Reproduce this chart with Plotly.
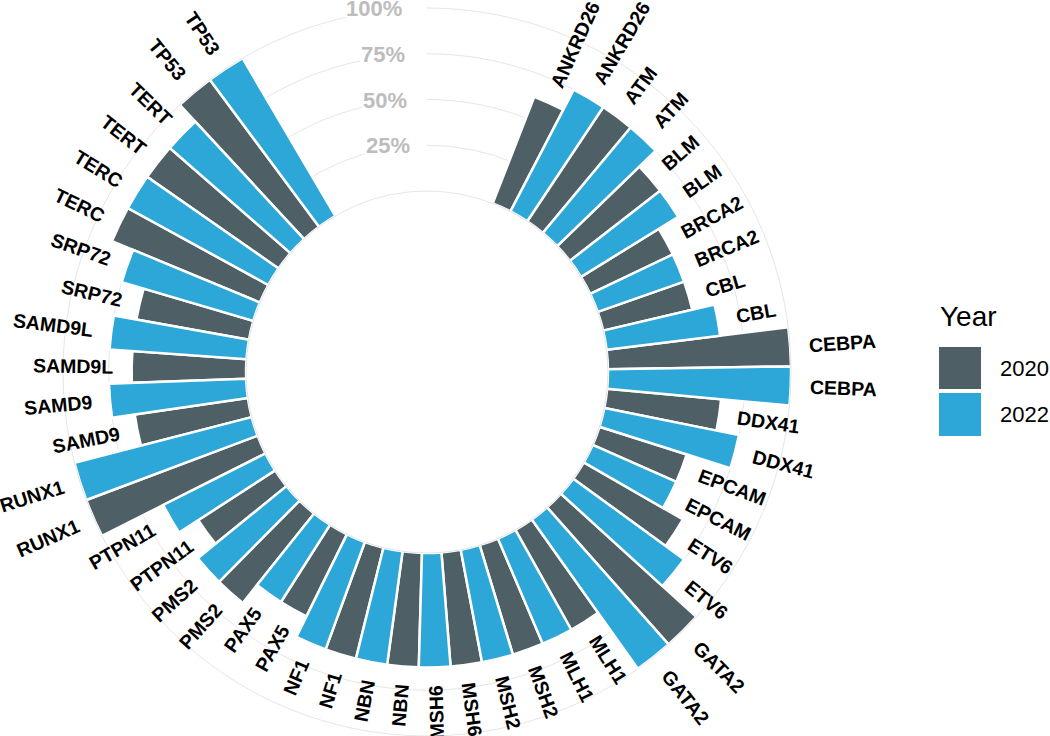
import math
import plotly.graph_objects as go

# ---------------- data ----------------
genes = ["ANKRD26", "ATM", "BLM", "BRCA2", "CBL", "CEBPA", "DDX41", "EPCAM", "ETV6",
         "GATA2", "MLH1", "MSH2", "MSH6", "NBN", "NF1", "PAX5", "PMS2", "PTPN11",
         "RUNX1", "SAMD9", "SAMD9L", "SRP72", "TERC", "TERT", "TP53"]
pct_2020 = [62.5, 75, 62.5, 50, 50, 100, 62.5, 50, 62.5, 100, 62.5, 62.5, 62.5, 62.5,
            62.5, 50, 62.5, 50, 100, 62.5, 62.5, 62.5, 87.5, 87.5, 100]
pct_2022 = [75, 75, 62.5, 50, 62.5, 100, 75, 50, 75, 100, 62.5, 62.5, 62.5, 62.5,
            62.5, 50, 62.5, 62.5, 100, 75, 75, 75, 87.5, 87.5, 100]
years = ["2020", "2022"]
ring_ticks = [25, 50, 75, 100]
ring_labels = ["25%", "50%", "75%", "100%"]

# ---------------- style / geometry ----------------
W, H = 1050, 736
COLORS = {"2020": "#4E5F66", "2022": "#2CA7D7"}
GRID = "#E6E6E6"
FONT = "Arial, 'Liberation Sans', Helvetica, sans-serif"
CX, CY = 427.0, 372.0          # circle centre in px
R_IN = 181.0                    # px radius of value 0
RMAX = 100.0
R_OUT = 364.0
K = (R_OUT - R_IN) / RMAX       # px per unit
TH0 = 21.3                      # clockwise start angle (deg from top)
DT = 6.165                      # angular slot width
LABEL_PAD = 10                  # label offset in value units
GENE_FS = 19.5
PCT_FS = 22

vals = {"2020": pct_2020, "2022": pct_2022}
thetas = {y: [] for y in years}
for g in range(len(genes)):
    for j, y in enumerate(years):
        idx = 2 * g + j
        thetas[y].append(TH0 + (idx + 0.5) * DT)

fig = go.Figure()
for y in years:
    fig.add_trace(go.Barpolar(
        r=vals[y], theta=thetas[y], width=[DT] * len(genes), name=y,
        marker=dict(color=COLORS[y], line=dict(color="white", width=2.5)),
        showlegend=False, hoverinfo="skip"))

CW = {"A": .722, "B": .722, "C": .722, "D": .722, "E": .667, "F": .611, "G": .778,
      "H": .722, "I": .278, "K": .722, "L": .611, "M": .833, "N": .722, "P": .667,
      "R": .722, "S": .667, "T": .611, "V": .667, "X": .667, "%": .889}
def text_w(s, fs):
    return sum(CW.get(ch, .556) for ch in s) * fs

def to_paper(px, py):
    return px / W, 1 - py / H

annotations = []
for g, gene in enumerate(genes):
    for y in years:
        c = thetas[y][g]
        v = vals[y][g]
        r_anchor = R_IN + K * (v + LABEL_PAD)
        w = text_w(gene, GENE_FS)
        rc = r_anchor + w / 2
        rad = math.radians(c)
        px, py = CX + rc * math.sin(rad), CY - rc * math.cos(rad)
        flipped = c > 177
        ang = c - 270 if flipped else c - 90
        x, yy = to_paper(px, py)
        annotations.append(dict(x=x, y=yy, xref="paper", yref="paper", text="<b>%s</b>" % gene,
                                showarrow=False, textangle=ang, xanchor="center", yanchor="middle",
                                font=dict(family=FONT, size=GENE_FS, color="black")))

PCT_ANG = math.radians(-3.5)
for t, lab in zip(ring_ticks, ring_labels):
    r = R_IN + K * t
    xr = CX + r * math.sin(PCT_ANG)
    yc = CY - r * math.cos(PCT_ANG)
    w = text_w(lab, PCT_FS)
    x, yy = to_paper(CX, yc)
    annotations.append(dict(x=x, y=yy, xref="paper", yref="paper", text="<b>%s</b>" % lab,
                            showarrow=False, xanchor="right", yanchor="middle",
                            width=(CX - xr) + w + 2, align="left", bgcolor="white", borderpad=0,
                            font=dict(family=FONT, size=PCT_FS, color="#BDBDBD")))

annotations.append(dict(x=938 / W, y=1 - 316 / H, xref="paper", yref="paper", text="Year",
                        showarrow=False, xanchor="left", yanchor="middle",
                        font=dict(family=FONT, size=28, color="black")))
shapes = []
for y, (top, bot) in zip(years, [(347, 389), (393, 436)]):
    shapes.append(dict(type="rect", xref="paper", yref="paper", x0=939 / W, x1=981 / W,
                       y0=1 - bot / H, y1=1 - top / H, fillcolor=COLORS[y], line=dict(width=0)))
    annotations.append(dict(x=998 / W, y=1 - (top + bot) / 2 / H, xref="paper", yref="paper",
                            text=y, showarrow=False, xanchor="left", yanchor="middle",
                            font=dict(family=FONT, size=22, color="black")))

fig.update_layout(
    width=W, height=H, margin=dict(l=0, r=0, t=0, b=0),
    paper_bgcolor="white", plot_bgcolor="white",
    polar=dict(
        domain=dict(x=[(CX - R_OUT) / W, (CX + R_OUT) / W],
                    y=[(H - CY - R_OUT) / H, (H - CY + R_OUT) / H]),
        hole=R_IN / R_OUT,
        bgcolor="white",
        barmode="overlay",
        radialaxis=dict(range=[0, RMAX], tickvals=ring_ticks, showticklabels=False,
                        ticks="", showline=False, gridcolor=GRID, gridwidth=1),
        angularaxis=dict(direction="clockwise", rotation=90, showgrid=False,
                         showticklabels=False, ticks="", showline=True,
                         linecolor=GRID, linewidth=1),
    ),
    annotations=annotations, shapes=shapes,
)

fig.write_html("out.html", config={"displayModeBar": False},
               post_script="document.body.style.margin='0';document.body.style.overflow='hidden';")
